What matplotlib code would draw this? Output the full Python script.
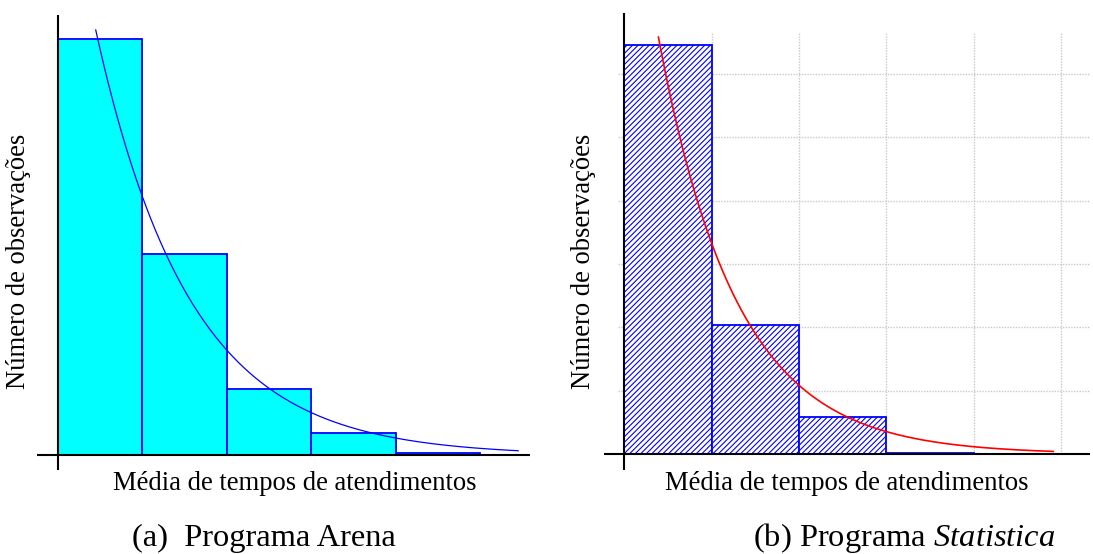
import numpy as np
import matplotlib
matplotlib.use("Agg")
import matplotlib.pyplot as plt

plt.rcParams["font.family"] = ["Liberation Serif", "DejaVu Serif"]
plt.rcParams["mathtext.fontset"] = "custom"
plt.rcParams["mathtext.rm"] = "Liberation Serif"
plt.rcParams["mathtext.it"] = "Liberation Serif:italic"
plt.rcParams["hatch.linewidth"] = 0.8

W, H = 1093, 554

# Arena histogram (bin index 0..4) and fitted exponential
arena_counts = [206, 100, 33, 11, 1]
arena_n = 351
arena_rate = 0.90
arena_curve_span = (0.45, 5.45)

# Statistica histogram and fitted exponential
stat_counts = [323, 102, 29, 1]
stat_n = 455
stat_rate = 1.12
stat_curve_span = (0.39, 4.91)
stat_grid_x = [1, 2, 3, 4, 5]
stat_grid_y = [50, 100, 150, 200, 250, 300]

xlabel = "Média de tempos de atendimentos"
ylabel = "Número de observações"


def fig_box(x0, y0, x1, y1):
    return [x0 / W, 1 - y1 / H, (x1 - x0) / W, (y1 - y0) / H]


def draw_axes_cross(ax):
    ax.axhline(0, color="black", lw=1.5, zorder=5)
    ax.axvline(0, color="black", lw=1.5, zorder=5)
    for s in ax.spines.values():
        s.set_visible(False)
    ax.set_xticks([])
    ax.set_yticks([])


fig = plt.figure(figsize=(W / 100, H / 100), dpi=100)

# (a) Arena
ax1 = fig.add_axes(fig_box(37, 15, 530, 470))
ax1.set_xlim(-0.245, 5.59)
ax1.set_ylim(-7.2, 218.1)
bins = np.arange(len(arena_counts))
ax1.bar(bins, arena_counts, width=1.0, align="edge", color="#00ffff",
        edgecolor="#0000ff", lw=1.3, zorder=2)
xs = np.linspace(*arena_curve_span, 300)
ax1.plot(xs, arena_n * arena_rate * np.exp(-arena_rate * xs),
         color="#0000ff", lw=0.9, zorder=3)
draw_axes_cross(ax1)

# (b) Statistica
ax2 = fig.add_axes(fig_box(604, 13, 1090, 470))
ax2.set_xlim(-0.233, 5.33)
ax2.set_ylim(-12.6, 348.3)
ax2.vlines(stat_grid_x, 0, 332.5, colors="#c8c8c8", linestyles=(0, (1, 1)),
           lw=1.0, zorder=1)
ax2.hlines(stat_grid_y, -0.072, 5.33, colors="#c8c8c8", linestyles=(0, (1, 1)),
           lw=1.0, zorder=1)
bins = np.arange(len(stat_counts))
ax2.bar(bins, stat_counts, width=1.0, align="edge", color="white",
        edgecolor="#0000ff", hatch="//////", lw=1.3, zorder=2)
xs = np.linspace(*stat_curve_span, 300)
ax2.plot(xs, stat_n * stat_rate * np.exp(-stat_rate * xs),
         color="#ff0000", lw=1.2, zorder=3)
draw_axes_cross(ax2)

# axis titles and captions
fs_label = 19.2
fs_cap = 23.4
fig.text(295 / W, 1 - 484 / H, xlabel, fontsize=fs_label, ha="center", va="center")
fig.text(847 / W, 1 - 484 / H, xlabel, fontsize=fs_label, ha="center", va="center")
fig.text(19 / W, 1 - 261 / H, ylabel, fontsize=fs_label, rotation=90,
         ha="center", va="center")
fig.text(583 / W, 1 - 261 / H, ylabel, fontsize=fs_label, rotation=90,
         ha="center", va="center")
fig.text(264 / W, 1 - 538 / H, "(a)  Programa Arena", fontsize=fs_cap,
         ha="center", va="center")
fig.text(904 / W, 1 - 538 / H, r"(b) Programa $\mathit{Statistica}$",
         fontsize=fs_cap, ha="center", va="center")

fig.savefig("out.png", dpi=100)
